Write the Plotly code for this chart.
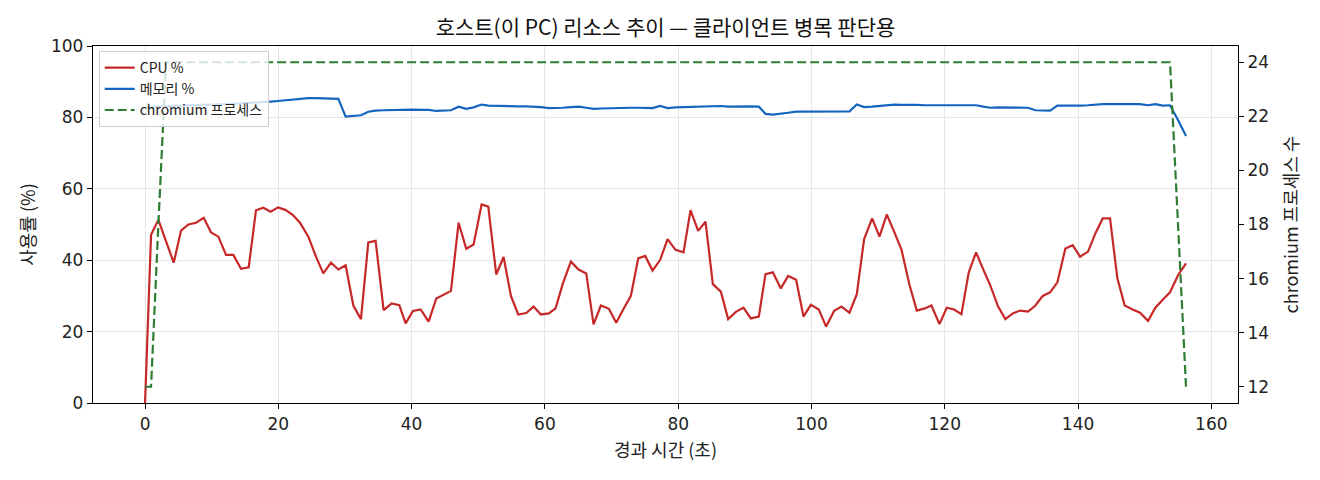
import plotly.graph_objects as go

# elapsed seconds
times = [
    0.0, 0.9, 2.0, 3.15, 4.3, 5.4, 6.5, 7.65, 8.8, 9.9,
    11.0, 12.15, 13.25, 14.4, 15.55, 16.65, 17.75, 18.85, 19.95, 21.05,
    22.15, 23.25, 24.5, 25.65, 26.75, 27.9, 29.0, 30.1, 31.25, 32.4,
    33.5, 34.6, 35.8, 37.0, 38.15, 39.1, 40.2, 41.35, 42.55, 43.7,
    44.8, 45.9, 47.05, 48.2, 49.3, 50.5, 51.5, 52.7, 53.8, 54.9,
    56.0, 57.2, 58.3, 59.4, 60.6, 61.6, 62.7, 63.9, 65.05, 66.2,
    67.3, 68.4, 69.6, 70.7, 71.75, 72.9, 74.0, 75.05, 76.15, 77.3,
    78.4, 79.6, 80.8, 81.85, 83.0, 84.1, 85.2, 86.4, 87.5, 88.7,
    89.8, 90.9, 92.1, 93.1, 94.2, 95.4, 96.5, 97.7, 98.8, 99.9,
    101.1, 102.2, 103.4, 104.5, 105.7, 106.8, 107.9, 109.1, 110.2, 111.3,
    112.4, 113.5, 114.7, 115.8, 117.0, 118.0, 119.2, 120.3, 121.4, 122.5,
    123.6, 124.7, 125.8, 126.8, 128.0, 129.1, 130.2, 131.3, 132.5, 133.6,
    134.7, 135.8, 136.9, 138.1, 139.2, 140.3, 141.5, 142.6, 143.7, 144.8,
    145.9, 147.0, 148.2, 149.3, 150.5, 151.6, 152.7, 153.8, 155.0, 156.2,
]

cpu = [
    0.0, 47.1, 51.3, 45.3, 39.3, 48.3, 50.0, 50.5, 51.9, 47.8,
    46.6, 41.5, 41.5, 37.6, 38.0, 54.0, 54.7, 53.6, 54.8, 54.1,
    52.7, 50.5, 46.6, 41.0, 36.3, 39.3, 37.4, 38.6, 27.3, 23.5,
    45.0, 45.4, 26.0, 27.9, 27.4, 22.3, 25.8, 26.2, 22.8, 29.3,
    30.3, 31.4, 50.5, 43.2, 44.4, 55.6, 55.0, 36.0, 40.9, 30.0,
    24.8, 25.2, 27.0, 24.8, 25.1, 26.5, 33.5, 39.6, 37.4, 36.3,
    22.0, 27.3, 26.4, 22.5, 26.2, 30.0, 40.5, 41.2, 37.1, 40.1,
    45.9, 42.9, 42.2, 54.0, 48.2, 50.8, 33.3, 31.2, 23.5, 25.6,
    26.7, 23.7, 24.2, 36.1, 36.6, 32.1, 35.6, 34.5, 24.2, 27.5,
    26.2, 21.4, 25.8, 27.0, 25.3, 30.5, 45.9, 51.7, 46.6, 52.8,
    48.0, 43.0, 33.1, 25.9, 26.5, 27.3, 22.1, 26.7, 26.2, 24.9,
    36.6, 42.2, 37.3, 33.1, 27.0, 23.5, 25.1, 25.9, 25.6, 27.3,
    30.0, 31.0, 33.8, 43.3, 44.2, 41.0, 42.4, 47.5, 51.7, 51.7,
    34.9, 27.3, 26.2, 25.3, 23.0, 26.7, 28.9, 31.0, 35.8, 39.1,
]

memory = [
    82.6, 82.9, 83.1, 83.2, 83.3, 83.3, 83.4, 83.4, 83.5, 83.5,
    83.6, 83.6, 83.7, 83.8, 83.9, 84.0, 84.2, 84.4, 84.6, 84.8,
    85.0, 85.1, 85.4, 85.4, 85.4, 85.3, 85.2, 80.2, 80.4, 80.6,
    81.6, 81.9, 82.0, 82.1, 82.1, 82.2, 82.2, 82.1, 82.1, 81.8,
    81.9, 82.0, 83.0, 82.4, 82.8, 83.6, 83.3, 83.2, 83.2, 83.2,
    83.1, 83.1, 83.1, 82.9, 82.6, 82.6, 82.7, 82.9, 83.0, 82.7,
    82.4, 82.5, 82.6, 82.7, 82.7, 82.7, 82.7, 82.6, 82.6, 83.2,
    82.6, 82.8, 82.9, 83.0, 83.1, 83.2, 83.1, 83.2, 83.0, 83.1,
    83.1, 83.1, 83.0, 81.0, 80.8, 81.0, 81.3, 81.6, 81.6, 81.6,
    81.6, 81.6, 81.6, 81.6, 81.7, 83.6, 82.9, 83.0, 83.2, 83.4,
    83.6, 83.5, 83.6, 83.5, 83.4, 83.4, 83.3, 83.3, 83.2, 83.3,
    83.4, 83.4, 83.0, 82.7, 82.8, 82.8, 82.7, 82.7, 82.7, 82.0,
    81.9, 81.9, 83.3, 83.3, 83.1, 83.3, 83.4, 83.6, 83.7, 83.7,
    83.7, 83.7, 83.7, 83.7, 83.4, 83.7, 83.3, 83.4, 79.3, 74.8,
]

chromium = [12, 12, 18] + [24] * 135 + [18, 12]

KFONT = "Noto Sans CJK KR, Noto Sans, sans-serif"
NFONT = "DejaVu Sans, sans-serif"

fig = go.Figure()
fig.add_trace(go.Scatter(x=times, y=cpu, name="CPU %", mode="lines",
                         line=dict(color="#c62828", width=2.2)))
fig.add_trace(go.Scatter(x=times, y=memory, name="메모리 %", mode="lines",
                         line=dict(color="#1565c0", width=2.2)))
fig.add_trace(go.Scatter(x=times, y=chromium, name="chromium 프로세스", mode="lines",
                         line=dict(color="#2e7d32", width=2.2, dash="9px,4px"),
                         yaxis="y2"))

axis_common = dict(
    showline=True, linecolor="black", linewidth=1.3,
    ticks="outside", ticklen=5, tickcolor="black", tickwidth=1.3,
    tickfont=dict(family=NFONT, size=17, color="#222"), zeroline=False,
    automargin=False,
)

# the page body has an 8px margin, so the plot margins are shifted by it
fig.update_layout(
    width=1320, height=480,
    margin=dict(l=85, r=90, t=38, b=85),
    paper_bgcolor="white", plot_bgcolor="white",
    font=dict(family=KFONT, color="#222"),
    title=dict(text="호스트(이 PC) 리소스 추이 — 클라이언트 병목 판단용",
               x=0.5, xref="paper", xanchor="center",
               y=1 - 20 / 480, yanchor="middle",
               font=dict(size=21, color="#111")),
    xaxis=dict(range=[-7.81, 164.0], tickvals=[0, 20, 40, 60, 80, 100, 120, 140, 160],
               showgrid=True, gridcolor="#e6e6e6", mirror=True,
               title=dict(text="경과 시간 (초)", font=dict(size=18), standoff=11),
               **axis_common),
    yaxis=dict(range=[0, 100], tickvals=[0, 20, 40, 60, 80, 100],
               showgrid=True, gridcolor="#e6e6e6", mirror=True,
               title=dict(text="사용률 (%)", font=dict(size=18), standoff=10),
               **axis_common),
    yaxis2=dict(range=[11.4, 24.6], tickvals=[12, 14, 16, 18, 20, 22, 24],
                overlaying="y", side="right", showgrid=False,
                title=dict(text="chromium 프로세스 수", font=dict(size=18), standoff=17),
                **axis_common),
    legend=dict(x=0.005, y=0.986, xanchor="left", yanchor="top",
                bgcolor="rgba(255,255,255,0.8)", bordercolor="#cccccc", borderwidth=1,
                font=dict(size=14), tracegroupgap=0, itemwidth=30),
    showlegend=True,
)

fig.write_html("out.html")
